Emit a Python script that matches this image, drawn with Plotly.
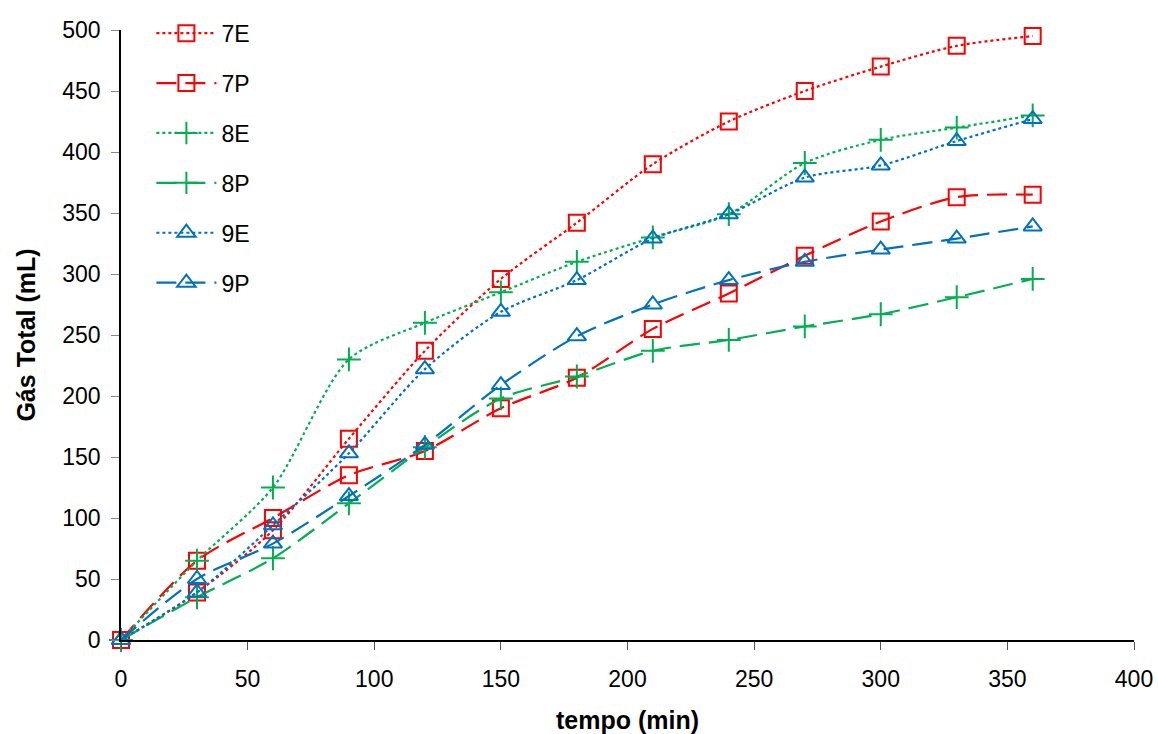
import plotly.graph_objects as go

tempo = [0, 30, 60, 90, 120, 150, 180, 210, 240, 270, 300, 330, 360]

gas_7E = [0, 39, 90, 165, 237, 296, 342, 390, 425, 450, 470, 487, 495]
gas_7P = [0, 65, 100, 135, 155, 190, 215, 255, 284, 315, 343, 363, 365]
gas_8E = [0, 65, 125, 230, 260, 285, 310, 330, 349, 391, 410, 420, 430]
gas_8P = [0, 35, 67, 112, 158, 198, 216, 237, 246, 257, 267, 281, 296]
gas_9E = [0, 39, 94, 153, 222, 269, 295, 329, 349, 379, 389, 409, 427]
gas_9P = [0, 50, 79, 118, 160, 209, 249, 275, 295, 310, 320, 329, 339]

RED = "#FF0000"
GREEN = "#00B050"
BLUE = "#0070C0"

series = [
    ("7E", gas_7E, RED, "dot", "square-open", 16),
    ("7P", gas_7P, RED, "20px,9px", "square-open", 16),
    ("8E", gas_8E, GREEN, "dot", "cross-thin-open", 17),
    ("8P", gas_8P, GREEN, "20px,9px", "cross-thin-open", 17),
    ("9E", gas_9E, BLUE, "dot", "triangle-up-open", 16),
    ("9P", gas_9P, BLUE, "20px,9px", "triangle-up-open", 16),
]

fig = go.Figure()
for name, vals, color, dash, symbol, size in series:
    fig.add_trace(go.Scatter(
        x=tempo, y=vals, name=name, legendgroup=name,
        mode="lines+markers", cliponaxis=False,
        line=dict(color=color, width=2.2, dash=dash, shape="spline", smoothing=0.8),
        marker=dict(symbol=symbol, size=size, color=color,
                    line=dict(color=color, width=2)),
    ))

tick_font = dict(family="Liberation Sans, Arial, sans-serif", size=23, color="black")
title_font = dict(family="Liberation Sans, Arial, sans-serif", size=25, color="black")

fig.update_layout(
    width=1158, height=734,
    margin=dict(l=121, r=24, t=27, b=94),
    paper_bgcolor="white", plot_bgcolor="white",
    font=tick_font,
    showlegend=True,
    legend=dict(
        x=0.03, y=1.03, xanchor="left", yanchor="top",
        bgcolor="rgba(0,0,0,0)",
        font=dict(family="Liberation Sans, Arial, sans-serif", size=23, color="black"),
        tracegroupgap=17, itemwidth=60,
    ),
    xaxis=dict(
        range=[0, 400], dtick=50, tick0=0, automargin=False,
        showgrid=False, zeroline=False,
        showline=True, linecolor="black", linewidth=1.5,
        ticks="outside", ticklen=8, tickcolor="#555", tickwidth=1,
        tickfont=tick_font, ticklabelstandoff=10,
        title=dict(text="<b>tempo (min)</b>", font=title_font, standoff=30),
    ),
    yaxis=dict(
        range=[0, 500], dtick=50, tick0=0, automargin=False,
        showgrid=False, zeroline=False,
        showline=True, linecolor="black", linewidth=1.5,
        ticks="outside", ticklen=8, tickcolor="#888", tickwidth=1,
        tickfont=tick_font, ticklabelstandoff=6,
        title=dict(text="<b>Gás Total (mL)</b>", font=title_font, standoff=20),
    ),
)

fig.write_html("out.html")
